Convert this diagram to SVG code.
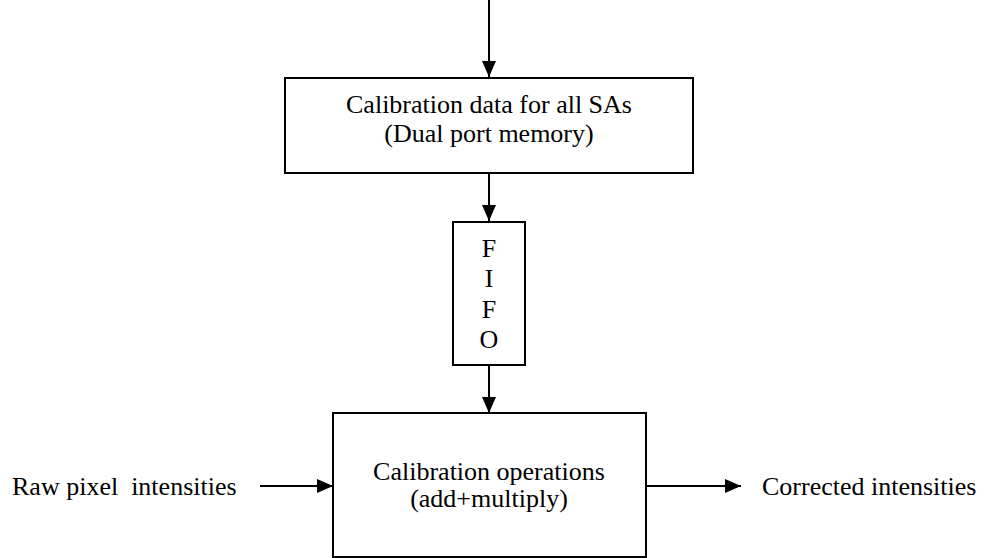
<svg xmlns="http://www.w3.org/2000/svg" width="984" height="558" viewBox="0 0 984 558">
  <style>
    .box { fill: #ffffff; stroke: #000000; stroke-width: 2; }
    .wire { stroke: #000000; stroke-width: 2; fill: none; }
    .lbl { font-family: "Liberation Serif", "Times New Roman", serif; font-size: 26px; fill: #000000; }
    .mid { text-anchor: middle; }
  </style>
  <defs>
    <marker id="arrow" viewBox="0 0 16 14" refX="16" refY="7" markerWidth="16" markerHeight="14" markerUnits="userSpaceOnUse" orient="auto">
      <path d="M0,0 L16,7 L0,14 Z" fill="#000000"/>
    </marker>
  </defs>

  <rect width="984" height="558" fill="#ffffff"/>

  <g id="connectors">
    <line class="wire" x1="489" y1="0" x2="489" y2="77" marker-end="url(#arrow)"/>
    <line class="wire" x1="489" y1="174" x2="489" y2="221" marker-end="url(#arrow)"/>
    <line class="wire" x1="489" y1="366" x2="489" y2="413" marker-end="url(#arrow)"/>
    <line class="wire" x1="260" y1="486" x2="333" y2="486" marker-end="url(#arrow)"/>
    <line class="wire" x1="646" y1="486" x2="741" y2="486" marker-end="url(#arrow)"/>
  </g>

  <g id="calib-memory">
    <rect class="box" x="285" y="78" width="408" height="95"/>
    <text class="lbl mid" x="489" y="113">Calibration data for all SAs</text>
    <text class="lbl mid" x="489" y="142">(Dual port memory)</text>
  </g>

  <g id="fifo">
    <rect class="box" x="453" y="222" width="72" height="143"/>
    <text class="lbl mid" x="489" y="257">F</text>
    <text class="lbl mid" x="489" y="287">I</text>
    <text class="lbl mid" x="489" y="318">F</text>
    <text class="lbl mid" x="489" y="348">O</text>
  </g>

  <g id="calib-ops">
    <rect class="box" x="333" y="413" width="313" height="144"/>
    <text class="lbl mid" x="489" y="480">Calibration operations</text>
    <text class="lbl mid" x="489" y="507">(add+multiply)</text>
  </g>

  <g id="raw-input">
    <text class="lbl" x="12" y="495" xml:space="preserve">Raw pixel  intensities</text>
  </g>

  <g id="corrected-output">
    <text class="lbl" x="762" y="495">Corrected intensities</text>
  </g>
</svg>
